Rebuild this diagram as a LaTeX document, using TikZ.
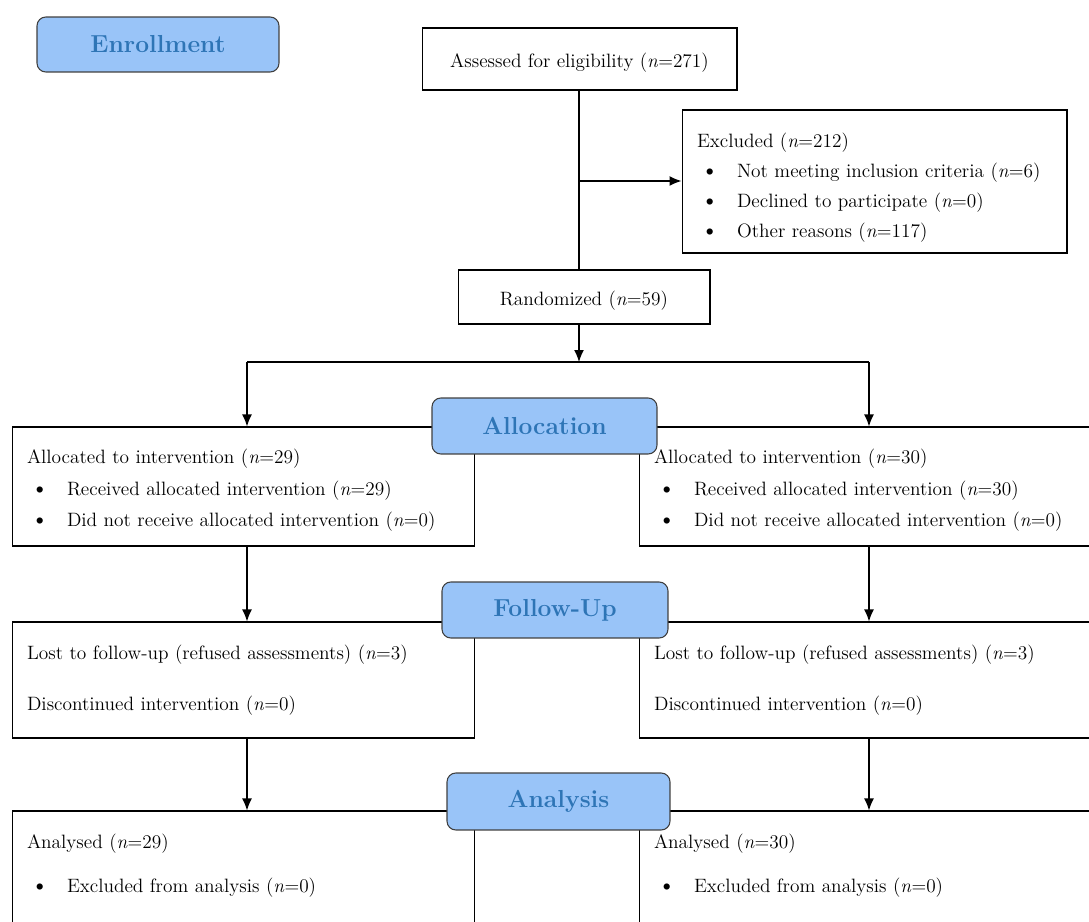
\documentclass[tikz,border=0pt]{standalone}
\usepackage{tikz}
\usetikzlibrary{arrows.meta, positioning}
\definecolor{stagefill}{RGB}{153,196,248}
\definecolor{stagetext}{RGB}{46,117,182}
\definecolor{stageline}{RGB}{64,64,64}
\tikzstyle{arrowline} = [-{Latex[length=2.4mm,width=2mm]},line width=0.8pt]
\tikzstyle{box} = [draw,line width=0.6pt,inner xsep=0.3cm,inner ysep=0pt,font=\fontsize{11}{18}\selectfont]
\tikzstyle{wide} = [box,text width=8.66cm,align=left]
\tikzstyle{stage} = [draw=stageline,fill=stagefill,line width=0.6pt,rounded corners=5pt,text=stagetext,font=\fontsize{14}{16}\selectfont\bfseries]
\newcommand{\itm}[1]{\hspace*{0.08cm}\makebox[0.72cm][l]{\fontsize{13}{18}\selectfont\textbullet}#1}
\newcommand{\nn}[1]{(\textit{n}=#1)}
\newcommand{\topstrut}[1]{\rule{0pt}{#1}}

\begin{document}
\begin{tikzpicture}[x=0.02cm,y=-0.02cm]
	\useasboundingbox (0,0) rectangle (1089,922);
	\clip (0,0) rectangle (1089,922);

	% screening
	\node[box, minimum width=6.3cm, minimum height=1.24cm] (assessed) at (579.5,59) {\topstrut{12.5pt}Assessed for eligibility \nn{271}};
	\node[box, text width=7.1cm, align=left, minimum height=2.86cm] (excluded) at (874.5,181.5)
		{\topstrut{15pt}Excluded \nn{212}\\[-1pt] \itm{Not meeting inclusion criteria \nn{6}}\\[-1pt] \itm{Declined to participate \nn{0}}\\[-1pt] \itm{Other reasons \nn{117}}};
	\node[box, minimum width=5.04cm, minimum height=1.08cm] (randomized) at (584,297) {\topstrut{12.5pt}Randomized \nn{59}};

	% two arms
	\node[wide, minimum height=2.38cm] (allocL) at (243.5,486.5)
		{\topstrut{12.5pt}Allocated to intervention \nn{29}\\ \itm{Received allocated intervention \nn{29}}\\ \itm{Did not receive allocated intervention \nn{0}}};
	\node[wide, minimum height=2.38cm] (allocR) at (870.5,486.5)
		{\topstrut{12.5pt}Allocated to intervention \nn{30}\\ \itm{Received allocated intervention \nn{30}}\\ \itm{Did not receive allocated intervention \nn{0}}};

	\node[wide, minimum height=2.32cm] (followL) at (243.5,680)
		{Lost to follow-up (refused assessments) \nn{3}\\[11pt] Discontinued intervention \nn{0}};
	\node[wide, minimum height=2.32cm] (followR) at (870.5,680)
		{Lost to follow-up (refused assessments) \nn{3}\\[11pt] Discontinued intervention \nn{0}};

	\node[wide, minimum height=2.4cm] (analysedL) at (243.5,871)
		{Analysed \nn{29}\\[7pt] \itm{Excluded from analysis \nn{0}}\\[-9pt] \mbox{}};
	\node[wide, minimum height=2.4cm] (analysedR) at (870.5,871)
		{Analysed \nn{30}\\[7pt] \itm{Excluded from analysis \nn{0}}\\[-9pt] \mbox{}};

	% stage labels
	\node[stage, minimum width=4.84cm, minimum height=1.1cm] (enrollment) at (158,44.5) {Enrollment};
	\node[stage, minimum width=4.5cm, minimum height=1.12cm] (allocation) at (544.5,426) {Allocation};
	\node[stage, minimum width=4.52cm, minimum height=1.12cm] (followup) at (555,610) {Follow-Up};
	\node[stage, minimum width=4.46cm, minimum height=1.14cm] (analysis) at (558.5,801.5) {Analysis};

	% connectors
	\coordinate (branch) at (579,181);
	\coordinate (split) at (579,362);
	\coordinate (splitL) at (247,362);
	\coordinate (splitR) at (869,362);

	\draw[line width=0.8pt] (assessed.south -| branch) -- (randomized.north -| branch);
	\draw[arrowline] (branch) -- (excluded.west |- branch);
	\draw[arrowline] (randomized.south -| split) -- (split);
	\draw[line width=0.8pt] (splitL) -- (splitR);
	\draw[arrowline] (splitL) -- (allocL.north -| splitL);
	\draw[arrowline] (splitR) -- (allocR.north -| splitR);
	\draw[arrowline] (allocL.south -| splitL) -- (followL.north -| splitL);
	\draw[arrowline] (allocR.south -| splitR) -- (followR.north -| splitR);
	\draw[arrowline] (followL.south -| splitL) -- (analysedL.north -| splitL);
	\draw[arrowline] (followR.south -| splitR) -- (analysedR.north -| splitR);

\end{tikzpicture}
\end{document}
